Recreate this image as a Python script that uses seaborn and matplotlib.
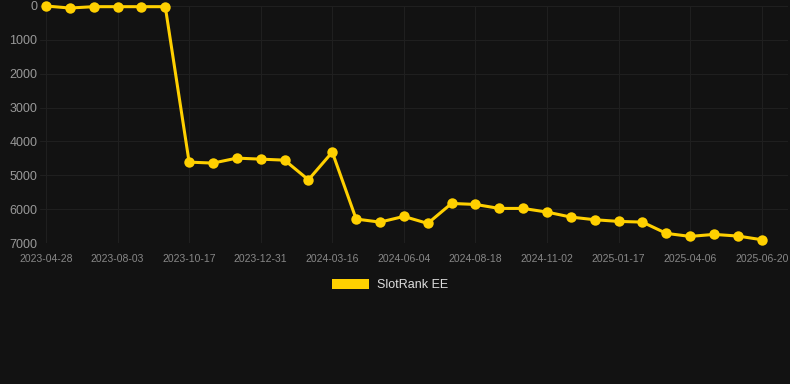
import numpy as np
import pandas as pd
import seaborn as sns
import matplotlib.pyplot as plt
from matplotlib.patches import Patch

sns.set_theme(style="dark")
plt.rcParams['font.family'] = ['Liberation Sans', 'DejaVu Sans']

# rank history (lower is better, axis inverted)
dates = ['2023-04-28', '2023-05-30', '2023-07-01', '2023-08-03', '2023-08-28', '2023-09-22',
         '2023-10-17', '2023-11-11', '2023-12-06', '2023-12-31', '2024-01-25', '2024-02-20',
         '2024-03-16', '2024-04-11', '2024-05-08', '2024-06-04', '2024-06-29', '2024-07-24',
         '2024-08-18', '2024-09-12', '2024-10-08', '2024-11-02', '2024-11-27', '2024-12-23',
         '2025-01-17', '2025-02-11', '2025-03-09', '2025-04-06', '2025-04-30', '2025-05-26',
         '2025-06-20']
ranks = [0, 60, 20, 20, 20, 20,
         4611, 4640, 4493, 4523, 4553, 5133,
         4316, 6293, 6383, 6215, 6422, 5832,
         5861, 5979, 5979, 6087, 6234, 6313,
         6362, 6383, 6716, 6805, 6746, 6795,
         6903]
series_name = 'SlotRank EE'

df = pd.DataFrame({'idx': np.arange(len(dates)), 'date': dates, 'rank': ranks})

bg = '#121212'
gold = '#ffd000'

fig = plt.figure(figsize=(7.9, 3.84), dpi=100, facecolor=bg)
ax = fig.add_axes([40 / 790, 1 - 243 / 384, 748 / 790, 237 / 384])
ax.set_facecolor(bg)

sns.lineplot(data=df, x='idx', y='rank', ax=ax, color=gold, lw=2.2,
             marker='o', markersize=7.5, markeredgewidth=0, clip_on=False)

ax.set_ylim(7000, 0)
ax.set_yticks(range(0, 7001, 1000))
ax.set_xlim(-0.25, 31.1)
ax.set_xticks(df['idx'][::3])
ax.set_xticklabels(df['date'][::3])

ax.grid(True, color='#1f1f1f', lw=0.8)
for s in ax.spines.values():
    s.set_visible(False)
ax.tick_params(axis='y', colors='#999999', labelsize=9, length=0, pad=2)
ax.tick_params(axis='x', colors='#888888', labelsize=7.5, length=0, pad=8)
ax.set_xlabel('')
ax.set_ylabel('')

fig.legend(handles=[Patch(facecolor=gold, edgecolor='none', label=series_name)],
           loc='center', bbox_to_anchor=(390 / 790, 1 - 285 / 384),
           frameon=False, fontsize=9, labelcolor='#dddddd',
           handlelength=3.0, handleheight=0.9, handletextpad=0.6)

fig.savefig('out.png', dpi=100, facecolor=bg)
